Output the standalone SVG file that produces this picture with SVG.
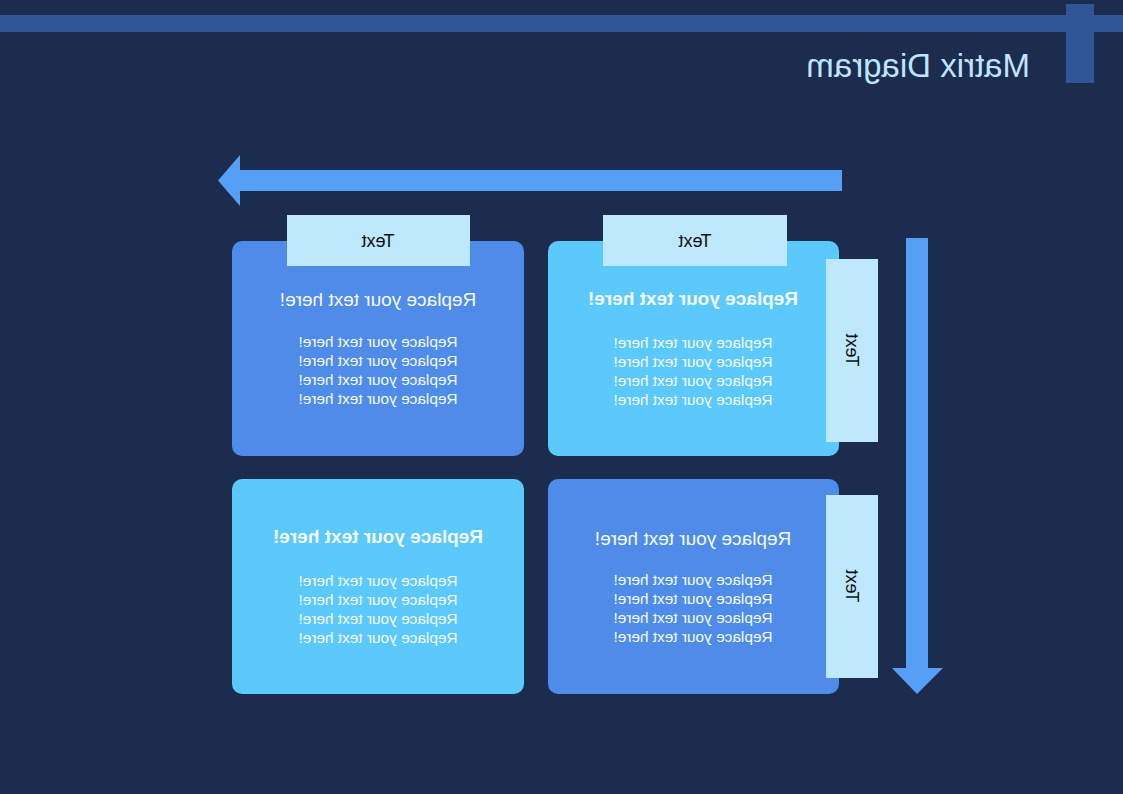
<svg xmlns="http://www.w3.org/2000/svg" width="1123" height="794" viewBox="0 0 1123 794">
<style>
.bg{fill:#1b2c4e}
.bar{fill:#2f5597}
.title{font-family:"Liberation Sans",Arial,sans-serif;font-size:33px;fill:#bfe4fb}
.arrow{fill:#559ff7}
.dark{fill:#4f8ce9}
.light{fill:#5bc9fc}
.tab{fill:#bee9fd}
.tabtxt{font-family:"Liberation Sans",Arial,sans-serif;font-size:18px;fill:#111;text-anchor:middle}
.head{font-family:"Liberation Sans",Arial,sans-serif;font-size:19px;fill:#f4faff;text-anchor:middle}
.bold{font-weight:bold}
.body{font-family:"Liberation Sans",Arial,sans-serif;font-size:15.4px;fill:#f4faff;text-anchor:middle}
</style>
<rect class="bg" x="0" y="0" width="1123" height="794"/>
<g transform="translate(1123,0) scale(-1,1)">
  <g id="header">
    <rect class="bar" x="0" y="15" width="1123" height="17"/>
    <rect class="bar" x="29" y="4" width="28" height="79"/>
    <text class="title" x="93" y="77">Matrix Diagram</text>
  </g>
  <g id="connectors">
    <polygon class="arrow" points="281,170 883,170 883,155 905,180.5 883,206 883,191 281,191"/>
    <polygon class="arrow" points="195,238 217,238 217,668 231,668 206,694 180,668 195,668"/>
  </g>
  <g id="q1">
    <rect class="dark" x="599" y="241" width="292" height="215" rx="10"/>
    <text class="head" x="745" y="306">Replace your text here!</text>
    <text class="body" x="745" y="347">Replace your text here!</text>
    <text class="body" x="745" y="366">Replace your text here!</text>
    <text class="body" x="745" y="385">Replace your text here!</text>
    <text class="body" x="745" y="404">Replace your text here!</text>
  </g>
  <g id="q2">
    <rect class="light" x="284" y="241" width="291" height="215" rx="10"/>
    <text class="head bold" x="430" y="305">Replace your text here!</text>
    <text class="body" x="430" y="348">Replace your text here!</text>
    <text class="body" x="430" y="367">Replace your text here!</text>
    <text class="body" x="430" y="386">Replace your text here!</text>
    <text class="body" x="430" y="405">Replace your text here!</text>
  </g>
  <g id="q3">
    <rect class="light" x="599" y="479" width="292" height="215" rx="10"/>
    <text class="head bold" x="745" y="543">Replace your text here!</text>
    <text class="body" x="745" y="586">Replace your text here!</text>
    <text class="body" x="745" y="605">Replace your text here!</text>
    <text class="body" x="745" y="624">Replace your text here!</text>
    <text class="body" x="745" y="643">Replace your text here!</text>
  </g>
  <g id="q4">
    <rect class="dark" x="284" y="479" width="291" height="215" rx="10"/>
    <text class="head" x="430" y="545">Replace your text here!</text>
    <text class="body" x="430" y="585">Replace your text here!</text>
    <text class="body" x="430" y="604">Replace your text here!</text>
    <text class="body" x="430" y="623">Replace your text here!</text>
    <text class="body" x="430" y="642">Replace your text here!</text>
  </g>
  <g id="tab-top-1">
    <rect class="tab" x="653" y="215" width="183" height="51"/>
    <text class="tabtxt" x="745" y="247">Text</text>
  </g>
  <g id="tab-top-2">
    <rect class="tab" x="336" y="215" width="184" height="51"/>
    <text class="tabtxt" x="428" y="247">Text</text>
  </g>
  <g id="tab-side-1">
    <rect class="tab" x="245" y="259" width="52" height="183"/>
    <text class="tabtxt" transform="translate(277,350) rotate(-90)" x="0" y="0">Text</text>
  </g>
  <g id="tab-side-2">
    <rect class="tab" x="245" y="495" width="52" height="183"/>
    <text class="tabtxt" transform="translate(277,586) rotate(-90)" x="0" y="0">Text</text>
  </g>
</g>
</svg>
